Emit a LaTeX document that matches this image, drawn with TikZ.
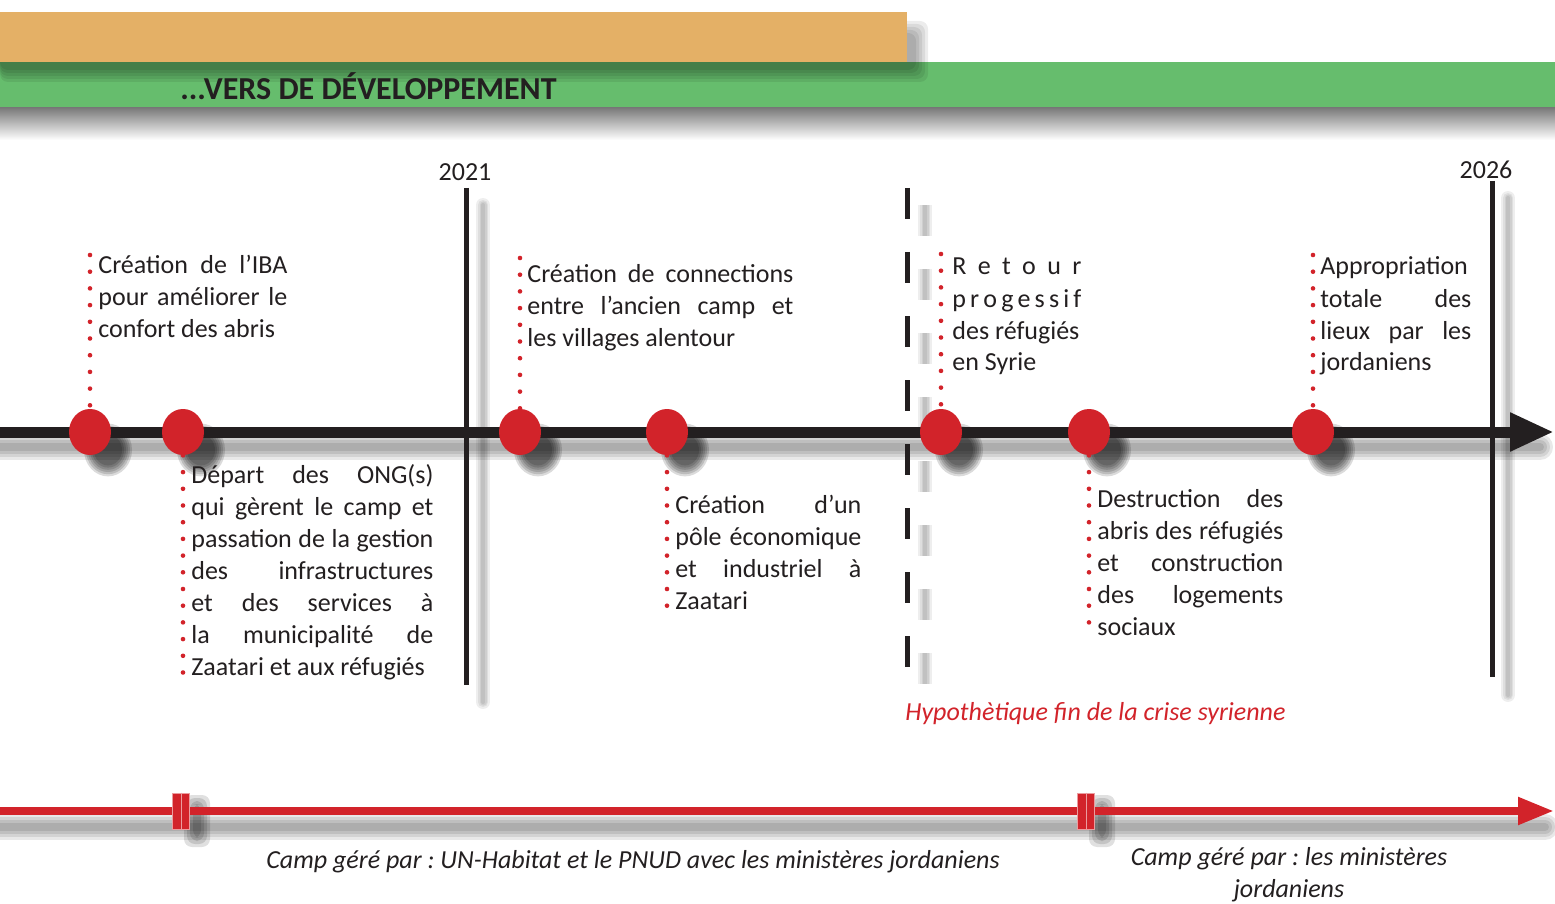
\documentclass[tikz,border=0pt]{standalone}
\usepackage{fontspec}
\setmainfont{Carlito}
\usetikzlibrary{arrows.meta,shapes.geometric}
\definecolor{ink}{HTML}{231F20}
\definecolor{tred}{HTML}{D2232A}
\definecolor{torange}{HTML}{E4B066}
\definecolor{tgreen}{HTML}{66BD6D}
\newcommand\jline[2]{\makebox[#1][s]{#2}}
\frenchspacing
\begin{document}
\begin{tikzpicture}[x=0.5pt,y=-0.5pt,
  dotline/.style={draw=tred, line width=2.3pt, line cap=round, dash pattern=on 0pt off 8.35pt},
  evdot/.style={ellipse, fill=tred, minimum width=21pt, minimum height=23pt, inner sep=0pt},
  desc/.style={anchor=base west, inner sep=0pt, align=left, text=ink, font=\fontsize{13}{16}\selectfont\frenchspacing},
  yearlbl/.style={anchor=base, inner sep=0pt, text=ink, font=\fontsize{13}{16}\selectfont},
  yearline/.style={draw=ink, line width=2.5pt},
  camplbl/.style={anchor=base, inner sep=0pt, align=center, text=ink, font=\fontsize{13}{16}\selectfont\itshape\frenchspacing},
  tickbox/.style={rectangle, fill=tred, draw=tred!45!white, line width=0.3pt, minimum width=8.5pt, minimum height=18pt, inner sep=0pt},
  shl/.style={black, opacity=0.065, line cap=round},
]
\useasboundingbox (0,0) rectangle (1555,904);
\fill[white] (0,0) rectangle (1555,904);

% ---------- banners
\fill[tgreen] (0,62) rectangle (1555,108);
\shade[top color=black!52, bottom color=white] (0,108) rectangle (1555,140);
\foreach \d in {-6,-3,0,3,6}{
  \fill[black, opacity=0.075, rounded corners=4pt] (0,{27-\d}) rectangle ({922+\d},{76+\d});
}
\fill[torange] (0,12) rectangle (907,62);
\node[anchor=base west, inner sep=0pt, text=ink, font=\fontsize{16}{18}\selectfont\bfseries] (title) at (180,100) {...VERS DE DÉVELOPPEMENT};

% ---------- shadows of the timeline
\foreach \w in {13,10,7,4}{
  \draw[shl, opacity=0.09, line width=\w pt] (0,447) -- (1540,447);
  \draw[shl, opacity=0.09, line width=\w pt] (0,827) -- (1545,827);
}
\foreach \w in {7,5,3.5,2}{
  \draw[shl, line width=\w pt] (483,205) -- (483,702);
  \draw[shl, line width=\w pt] (1508,198) -- (1508,695);
  \draw[shl, line width=\w pt, line cap=butt, dash pattern=on 15.5pt off 16.5pt] (925,205) -- (925,702);
}
\foreach \cx in {90,183,520,667,941,1089,1313}{
  \foreach \s in {0.7,0.8,0.9,1.0,1.1,1.2}{
    \fill[black, opacity=0.14] ({\cx+18},450) ellipse [x radius={20*\s}, y radius={22*\s}];
  }
}
\foreach \tx in {197,1102}{
  \foreach \d in {-4,-1,2,5}{
    \fill[black, opacity=0.12, rounded corners=4pt] ({\tx-8-\d},{800-\d}) rectangle ({\tx+8+\d},{842+\d});
  }
}

% ---------- vertical markers
\coordinate (v1t) at (466,188); \coordinate (v1b) at (466,685);
\coordinate (v2t) at (1492,181); \coordinate (v2b) at (1492,677);
\coordinate (vdt) at (907,188); \coordinate (vdb) at (907,685);
\draw[yearline] (v1t) -- (v1b);
\draw[yearline] (v2t) -- (v2b);
\draw[yearline, dash pattern=on 15.5pt off 16.5pt] (vdt) -- (vdb);
\node[yearlbl] (y2021) at (465,181) {2021};
\node[yearlbl] (y2026) at (1486,179) {2026};

% ---------- main axis
\coordinate (axS) at (0,432);
\coordinate (axE) at (1554,432);
\draw[ink, line width=5.5pt, -{Triangle[length=22pt,width=18pt]}] (axS) -- (axE);

% ---------- events
\node[evdot] (c1) at (90,432) {};
\node[evdot] (c2) at (183,432) {};
\node[evdot] (c3) at (520,432) {};
\node[evdot] (c4) at (667,432) {};
\node[evdot] (c5) at (941,432) {};
\node[evdot] (c6) at (1089,432) {};
\node[evdot] (c7) at (1313,432) {};

\coordinate (d1) at (90,255);
\coordinate (d2) at (183,674);
\coordinate (d3) at (520,258);
\coordinate (d4) at (667,607);
\coordinate (d5) at (941,254);
\coordinate (d6) at (1089,635);
\coordinate (d7) at (1313,255);
\draw[dotline] (d1) -- (c1);
\draw[dotline] (c2) -- (d2);
\draw[dotline] (d3) -- (c3);
\draw[dotline] (c4) -- (d4);
\draw[dotline] (d5) -- (c5);
\draw[dotline] (c6) -- (d6);
\draw[dotline] (d7) -- (c7);

% anchor base = baseline of the last line
\node[desc] (t1) at (98,337) {\jline{94.5pt}{Création de l’IBA}\\\jline{94.5pt}{pour améliorer le}\\confort des abris};
\node[desc] (t2) at (191,675) {\jline{121pt}{Départ des ONG(s)}\\\jline{121pt}{qui gèrent le camp et}\\\jline{121pt}{passation de la gestion}\\\jline{121pt}{des infrastructures}\\\jline{121pt}{et des services à}\\\jline{121pt}{la municipalité de}\\Zaatari et aux réfugiés};
\node[desc] (t3) at (527,346) {\jline{133pt}{Création de connections}\\\jline{133pt}{entre l’ancien camp et}\\les villages alentour};
\node[desc] (t4) at (675,609) {\jline{93pt}{Création d’un}\\\jline{93pt}{pôle économique}\\\jline{93pt}{et industriel à}\\Zaatari};
\node[desc] (t5) at (952,371) {\jline{64.5pt}{R\hfill e\hfill t\hfill o\hfill u\hfill r}\\\jline{64.5pt}{p\hfill r\hfill o\hfill g\hfill e\hfill s\hfill s\hfill i\hfill f}\\des réfugiés\\en Syrie};
\node[desc] (t6) at (1097,635) {\jline{93pt}{Destruction des}\\\jline{93pt}{abris des réfugiés}\\\jline{93pt}{et construction}\\\jline{93pt}{des logements}\\sociaux};
\node[desc] (t7) at (1320,371) {\jline{75.5pt}{Appropriation}\\\jline{75.5pt}{totale des}\\\jline{75.5pt}{lieux par les}\\jordaniens};

\node[desc, text=tred, font=\fontsize{13}{16}\selectfont\itshape] (hyp) at (905,720) {Hypothètique fin de la crise syrienne};

% ---------- management arrow
\coordinate (rS) at (0,811);
\coordinate (rE) at (1554,811);
\draw[tred, line width=4pt, -{Triangle[length=18pt,width=13pt]}] (rS) -- (rE);
\node[tickbox] (tk1) at (181,811) {};
\node[tickbox] (tk2) at (1086,811) {};
\draw[tred!45!white, line width=0.4pt] (tk1.north) -- (tk1.south);
\draw[tred!45!white, line width=0.4pt] (tk2.north) -- (tk2.south);

\node[camplbl] (m1) at (633,868) {Camp géré par : UN-Habitat et le PNUD avec les ministères jordaniens};
\node[camplbl] (m2) at (1289,897) {Camp géré par : les ministères\\jordaniens};
\end{tikzpicture}
\end{document}
